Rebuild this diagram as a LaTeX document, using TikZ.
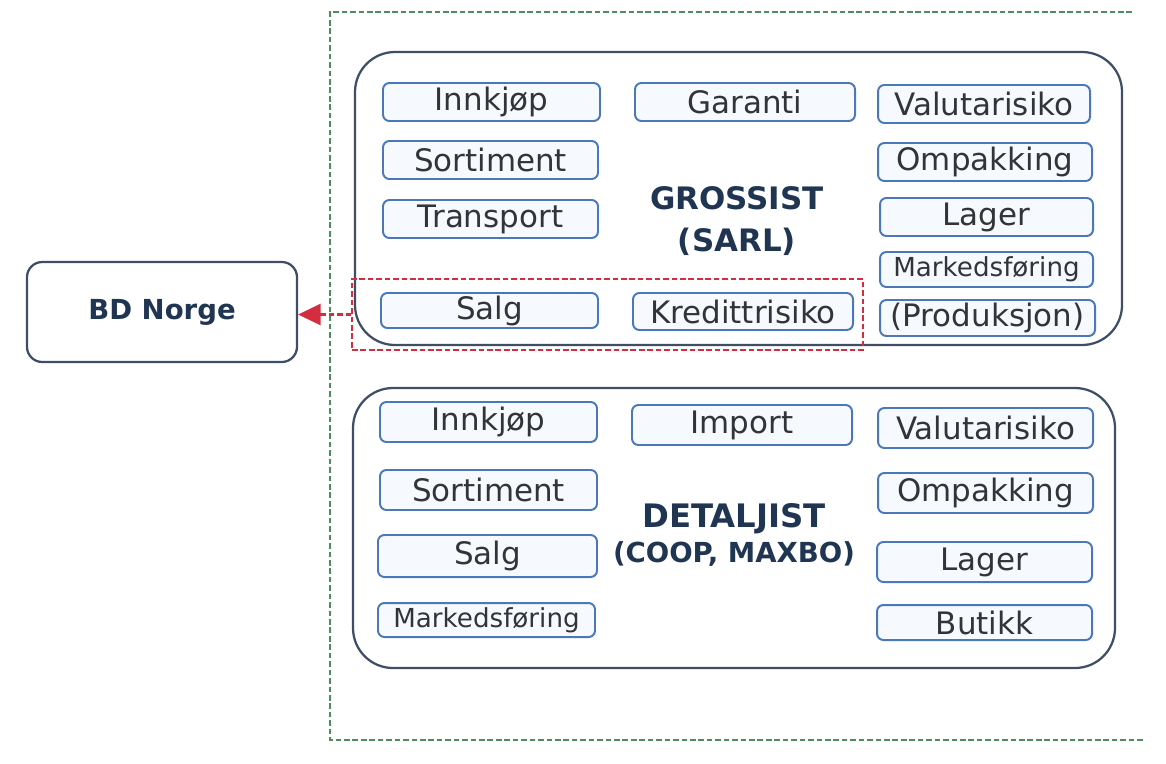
\documentclass[tikz,border=0pt]{standalone}
\usepackage{fontspec}
\setmainfont{DejaVu Sans}
\usetikzlibrary{positioning,arrows.meta}

\definecolor{rammeblaa}{HTML}{3F4D66}
\definecolor{boksblaa}{HTML}{4A78B8}
\definecolor{boksfyll}{HTML}{F6F9FD}
\definecolor{tekstgraa}{HTML}{33343A}
\definecolor{titnavy}{HTML}{1F3552}
\definecolor{stiplegronn}{HTML}{4E8E5E}
\definecolor{stiplerod}{HTML}{D22E40}

\newcommand{\pu}{0.0125cm}

\tikzset{
  ledd/.style={draw=rammeblaa, line width=0.8pt, rounded corners=0.5cm},
  funk/.style={draw=boksblaa, fill=boksfyll, line width=0.7pt, rounded corners=0.08cm,
    minimum height=38*\pu, inner sep=0pt, text=tekstgraa,
    font=\fontsize{11}{13}\selectfont},
  smalfunk/.style={funk, font=\fontsize{9.3}{11}\selectfont},
  tittel/.style={text=titnavy, align=center, font=\bfseries\fontsize{11}{15}\selectfont},
  stiplet/.style={line width=0.6pt, dash pattern=on 2pt off 1pt},
}

\begin{document}
\begin{tikzpicture}[x=\pu, y=-\pu]
	\useasboundingbox (0,0) rectangle (1166,763);
	%% ramme rundt ledd
	\coordinate (r1) at (1132,12);
	\coordinate (r2) at (330,12);
	\coordinate (r3) at (330,740);
	\coordinate (r4) at (1145,740);
	\draw[stiplet, draw=stiplegronn] (r1) -- (r2) -- (r3) -- (r4);
	%% grossist
	\node[ledd, minimum width=767*\pu, minimum height=293*\pu] (gross) at (738.5,198.5) {};
	\node[tittel] (gtittel) at (737,221) {GROSSIST\\(SARL)};
	\node[funk, minimum width=217*\pu] (g-innkjop) at (491.5,102) {Innkjøp};
	\node[funk, minimum width=220*\pu] (g-garanti) at (745,102) {Garanti};
	\node[funk, minimum width=212*\pu] (g-valuta) at (984,104) {Valutarisiko};
	\node[funk, minimum width=215*\pu] (g-sortiment) at (490.5,160) {Sortiment};
	\node[funk, minimum width=214*\pu] (g-ompakking) at (985,162) {Ompakking};
	\node[funk, minimum width=215*\pu] (g-transport) at (490.5,219) {Transport};
	\node[funk, minimum width=213*\pu] (g-lager) at (986.5,217) {Lager};
	\node[smalfunk, minimum width=213*\pu, minimum height=35*\pu] (g-marked) at (986.5,269.5) {Markedsføring};
	\node[funk, minimum width=217*\pu, minimum height=35*\pu] (g-salg) at (489.5,310.5) {Salg};
	\node[funk, minimum width=220*\pu, minimum height=37*\pu] (g-kreditt) at (743,311.5) {Kredittrisiko};
	\node[funk, minimum width=215*\pu, minimum height=36*\pu] (g-produksjon) at (987.5,318) {(Produksjon)};
	%% detaljist
	\node[ledd, minimum width=762*\pu, minimum height=280*\pu] (detalj) at (734,528) {};
	\node[tittel, font=\bfseries\fontsize{11.5}{12.5}\selectfont] (dtittel) at (734,535)
	  {DETALJIST\\{\fontsize{9.8}{12.5}\selectfont (COOP, MAXBO)}};
	\node[funk, minimum width=217*\pu, minimum height=40*\pu] (d-innkjop) at (488.5,422) {Innkjøp};
	\node[funk, minimum width=220*\pu, minimum height=40*\pu] (d-import) at (742,425) {Import};
	\node[funk, minimum width=215*\pu, minimum height=40*\pu] (d-valuta) at (985.5,428) {Valutarisiko};
	\node[funk, minimum width=217*\pu, minimum height=40*\pu] (d-sortiment) at (488.5,490) {Sortiment};
	\node[funk, minimum width=215*\pu, minimum height=40*\pu] (d-ompakking) at (985.5,493) {Ompakking};
	\node[funk, minimum width=219*\pu, minimum height=42*\pu] (d-salg) at (487.5,556) {Salg};
	\node[funk, minimum width=215*\pu, minimum height=40*\pu] (d-lager) at (984.5,562) {Lager};
	\node[smalfunk, minimum width=217*\pu, minimum height=34*\pu] (d-marked) at (486.5,620) {Markedsføring};
	\node[funk, minimum width=215*\pu, minimum height=35*\pu] (d-butikk) at (984.5,622.5) {Butikk};
	%% BD Norge og utsnitt
	\node[draw=rammeblaa, line width=0.8pt, rounded corners=0.19cm, minimum width=270*\pu,
	  minimum height=100*\pu, text=titnavy, font=\bfseries\fontsize{9.8}{12}\selectfont] (bd) at (162,312) {BD Norge};
	\node[stiplet, draw=stiplerod, minimum width=511*\pu, minimum height=71*\pu] (utsnitt) at (607.5,314.5) {};
	\draw[stiplet, line width=0.8pt, draw=stiplerod, -{Triangle[length=8pt,width=7.5pt,fill=stiplerod]}] (utsnitt.west) -- (utsnitt.west -| bd.east);
\end{tikzpicture}
\end{document}
